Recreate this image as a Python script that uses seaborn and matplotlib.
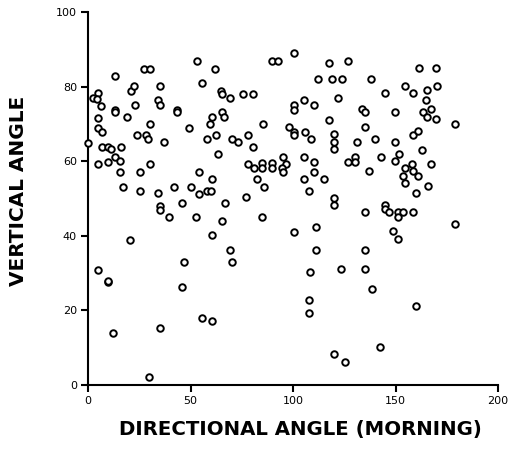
import matplotlib
matplotlib.use("Agg")
import matplotlib.pyplot as plt
import seaborn as sns
import pandas as pd

directional_angle = [
    0.0, 2.3, 4.7, 4.2, 6.3, 4.7, 4.7, 7.0, 7.0, 9.6, 11.2, 16.1, 13.2, 15.6, 9.9, 4.7,
    15.6, 16.9, 13.2, 13.2, 13.2, 18.9, 21.0, 22.6, 22.9, 23.7, 25.4, 25.4, 27.5, 30.2,
    30.2, 28.1, 29.4, 30.2, 34.3, 35.1, 34.3, 35.1, 37.2, 43.3, 43.3, 42.1, 49.1, 50.2,
    53.2, 55.5, 54.1, 54.1, 57.9, 59.9, 60.3, 58.2, 59.5, 60.3, 62.4, 62.1, 65.0, 65.2,
    65.2, 66.5, 63.3, 69.3, 70.1, 73.3, 75.5, 80.3, 78.2, 80.6, 78.2, 81.0, 82.3, 76.9,
    35.1, 35.1, 39.5, 45.7, 52.7, 66.8, 65.2, 60.3, 20.5, 47.0, 69.3, 70.1, 5.0, 9.9,
    9.9, 45.7, 55.5, 60.3, 35.3, 12.2, 29.8, 84.7, 89.9, 92.8, 100.3, 85.2, 85.0, 85.0,
    89.9, 89.9, 85.9, 94.9, 96.4, 94.5, 94.9, 100.3, 100.3, 98.2, 100.3, 100.3, 105.2,
    110.1, 106.0, 108.8, 105.4, 110.1, 110.1, 105.4, 108.0, 115.1, 112.0, 117.6, 119.0,
    123.9, 126.7, 122.0, 117.7, 120.0, 120.0, 120.0, 120.0, 120.0, 131.0, 126.7, 130.4,
    130.4, 137.2, 137.9, 133.7, 135.1, 135.1, 140.0, 142.8, 144.7, 149.6, 149.6, 151.9,
    149.6, 154.5, 158.5, 161.5, 169.6, 165.5, 170.4, 164.7, 163.6, 167.2, 165.5, 169.8,
    178.9, 158.5, 160.8, 162.9, 167.2, 158.0, 154.6, 158.7, 160.8, 153.8, 154.6, 165.7,
    160.1, 135.1, 144.9, 144.9, 147.0, 151.1, 151.1, 153.8, 158.7, 178.9, 100.5, 111.1,
    148.9, 151.1, 111.1, 135.1, 108.3, 123.4, 135.1, 138.7, 108.0, 108.0, 160.1, 120.1,
    125.2, 142.3,
]
vertical_angle = [
    65.0, 76.9, 78.2, 76.6, 74.9, 71.7, 69.0, 67.8, 63.9, 63.9, 63.2, 63.9, 61.2, 60.1, 59.9, 59.2,
    57.2, 53.2, 82.8, 73.7, 73.2, 71.8, 78.9, 80.2, 75.0, 67.0, 57.2, 52.1, 84.8, 84.8,
    69.9, 67.0, 65.9, 59.2, 51.4, 80.2, 76.4, 75.0, 65.1, 73.7, 73.1, 53.2, 69.0, 53.2,
    86.8, 80.9, 57.2, 51.2, 52.1, 52.1, 55.2, 66.0, 69.9, 71.8, 67.0, 84.8, 78.9, 77.9,
    73.1, 71.8, 61.9, 77.0, 66.0, 65.1, 78.1, 78.1, 67.0, 63.9, 59.2, 58.1, 55.2, 50.3,
    48.0, 46.9, 45.0, 48.9, 45.0, 48.9, 44.1, 40.2, 39.0, 33.1, 36.3, 33.1, 30.9, 27.6,
    28.0, 26.4, 18.0, 17.2, 15.2, 13.9, 2.1, 45.0, 86.8, 86.8, 88.9, 69.9, 59.4, 58.1,
    59.4, 58.1, 53.2, 61.2, 59.2, 58.1, 57.2, 75.0, 73.7, 69.1, 67.9, 67.0, 76.3,
    75.0, 67.9, 66.0, 61.2, 59.9, 57.2, 55.2, 52.1, 55.2, 82.1, 86.2, 82.1,
    82.1, 86.9, 77.0, 71.1, 67.2, 65.1, 63.3, 50.2, 48.2, 65.1, 59.9, 61.2,
    59.9, 57.3, 82.1, 74.0, 73.1, 69.2, 66.0, 61.2, 78.3, 73.2, 65.1, 62.0,
    60.1, 80.2, 78.3, 84.9, 84.9, 79.1, 80.2, 76.3, 73.2, 74.0, 71.9, 71.2,
    70.1, 67.1, 68.0, 62.9, 59.3, 59.3, 58.1, 57.3, 56.1, 56.1, 54.2, 53.4,
    51.4, 46.3, 48.2, 47.2, 46.3, 46.3, 45.0, 46.3, 46.3, 43.2, 41.1, 42.4,
    41.2, 39.2, 36.3, 36.3, 30.3, 31.2, 31.2, 25.8, 22.9, 19.2, 21.2, 8.2,
    6.2, 10.3,
]

x_ticks = [0, 50, 100, 150, 200]
y_ticks = [0, 20, 40, 60, 80, 100]
x_label = "DIRECTIONAL ANGLE (MORNING)"
y_label = "VERTICAL ANGLE"

df = pd.DataFrame({"dir": directional_angle, "vert": vertical_angle})

sns.set_style("ticks")
plt.rcParams["font.family"] = ["DejaVu Sans"]
plt.rcParams["text.color"] = "black"
plt.rcParams["axes.labelcolor"] = "black"
plt.rcParams["xtick.color"] = "black"
plt.rcParams["ytick.color"] = "black"

fig = plt.figure(figsize=(5.11, 4.5), dpi=100)
ax = fig.add_axes([88 / 511, 1 - 385 / 450, 410 / 511, 373 / 450])

sns.scatterplot(data=df, x="dir", y="vert", ax=ax, marker="o", s=22,
                facecolor="white", edgecolor="black", linewidth=1.4, zorder=3,
                clip_on=False, legend=False)

ax.set_xlim(0, 200)
ax.set_ylim(0, 100)
ax.set_xticks(x_ticks)
ax.set_yticks(y_ticks)
ax.set_xticklabels([str(t) for t in x_ticks], fontsize=8)
ax.set_yticklabels([str(t) for t in y_ticks], fontsize=8)
sns.despine(ax=ax)
for s in ["left", "bottom"]:
    ax.spines[s].set_linewidth(1.5)
    ax.spines[s].set_color("black")
ax.tick_params(axis="both", direction="out", length=5, width=1.5, colors="black", pad=3)

ax.set_xlabel(x_label, fontsize=14.2, fontweight="bold", color="black", labelpad=10)
ax.set_ylabel(y_label, fontsize=14.4, fontweight="bold", color="black", labelpad=20)
ax.xaxis.label.set_x((300 - 88) / 410)
ax.yaxis.label.set_y((385 - 191) / 373)

fig.savefig("out.png", dpi=100)
